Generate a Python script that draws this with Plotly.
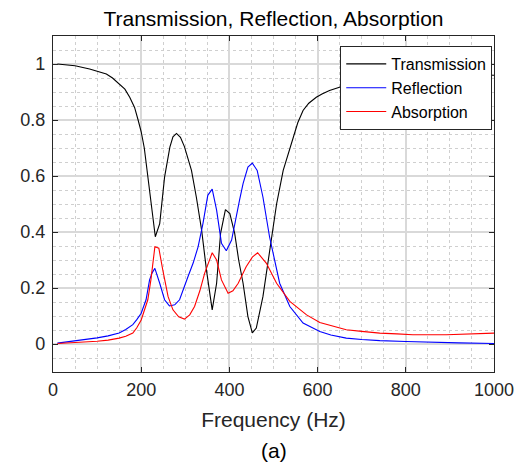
import plotly.graph_objects as go

# ---- data ----
freq_T = [10, 50, 83, 100, 121, 135, 151, 163, 174, 185, 193, 200, 207, 215, 227, 232, 242, 253, 265, 272,
          280, 289, 298, 314, 325, 337, 348, 361, 371, 380, 391, 401, 412, 421, 431, 442, 452, 461, 476, 491,
          507, 522, 535, 544, 555, 567, 580, 597, 610, 627, 660, 700, 750, 800, 850, 900, 950, 1000]
transmission = [1.0, 0.994, 0.982, 0.975, 0.964, 0.95, 0.929, 0.91, 0.881, 0.845, 0.80, 0.758, 0.70, 0.60,
                0.466, 0.383, 0.43, 0.596, 0.703, 0.74, 0.752, 0.738, 0.705, 0.62, 0.525, 0.407, 0.264, 0.122,
                0.217, 0.395, 0.48, 0.466, 0.395, 0.30, 0.217, 0.098, 0.04, 0.057, 0.169, 0.336, 0.50, 0.62,
                0.69, 0.739, 0.79, 0.834, 0.86, 0.881, 0.893, 0.905, 0.922, 0.939, 0.949, 0.956, 0.960, 0.962,
                0.962, 0.960]

freq_R = [10, 75, 100, 125, 150, 165, 181, 190, 200, 211, 219, 225, 231, 242, 253, 264, 276, 287, 295, 306,
          318, 329, 340, 351, 361, 371, 382, 393, 405, 416, 423, 431, 442, 452, 463, 476, 491, 514, 537, 567,
          605, 630, 665, 700, 741, 800, 854, 920, 1000]
reflection = [0.003, 0.015, 0.022, 0.029, 0.039, 0.052, 0.069, 0.087, 0.11, 0.158, 0.229, 0.255, 0.27, 0.217,
              0.158, 0.136, 0.14, 0.158, 0.19, 0.24, 0.29, 0.347, 0.43, 0.531, 0.553, 0.478, 0.36, 0.333, 0.371,
              0.466, 0.514, 0.573, 0.632, 0.646, 0.62, 0.525, 0.383, 0.217, 0.134, 0.075, 0.045, 0.032, 0.021,
              0.016, 0.012, 0.009, 0.006, 0.004, 0.002]

freq_A = [10, 75, 100, 125, 150, 165, 181, 190, 200, 215, 222, 231, 240, 249, 261, 272, 285, 298, 310, 321,
          333, 344, 361, 371, 382, 397, 408, 420, 438, 452, 464, 484, 507, 537, 575, 605, 640, 665, 700, 741,
          780, 816, 892, 950, 1000]
absorption = [0.002, 0.006, 0.01, 0.014, 0.021, 0.028, 0.039, 0.058, 0.086, 0.158, 0.229, 0.347, 0.342, 0.264,
              0.169, 0.122, 0.097, 0.089, 0.104, 0.134, 0.19, 0.253, 0.326, 0.30, 0.229, 0.181, 0.19, 0.217,
              0.276, 0.31, 0.326, 0.288, 0.217, 0.152, 0.104, 0.077, 0.062, 0.051, 0.045, 0.039, 0.036, 0.033,
              0.033, 0.035, 0.039]

x_ticks = [0, 200, 400, 600, 800, 1000]
y_ticks = [0, 0.2, 0.4, 0.6, 0.8, 1]
y_tick_labels = ["0", "0.2", "0.4", "0.6", "0.8", "1"]

FONT = "Arial, Liberation Sans, sans-serif"
AX = "#262626"

# the page body adds an 8 px offset, so the figure is 8 px smaller than the window
W, H = 516, 457
ML, MR, MT, MB = 45, 30, 28, 93
PH = H - MT - MB

fig = go.Figure()
fig.add_trace(go.Scatter(x=freq_T, y=transmission, mode="lines", name="Transmission",
                         line=dict(color="#000000", width=1.1)))
fig.add_trace(go.Scatter(x=freq_R, y=reflection, mode="lines", name="Reflection",
                         line=dict(color="#0000ff", width=1.1)))
fig.add_trace(go.Scatter(x=freq_A, y=absorption, mode="lines", name="Absorption",
                         line=dict(color="#ff0000", width=1.1)))

axis_common = dict(
    showline=True, linecolor=AX, linewidth=1.2, mirror="ticks",
    ticks="inside", ticklen=5, tickcolor=AX, tickwidth=1,
    showgrid=True, gridcolor="#d9d9d9", gridwidth=1.5,
    zeroline=False, automargin=False,
    tickfont=dict(family=FONT, size=18, color=AX),
)

fig.update_xaxes(
    range=[0, 1000], tickvals=x_ticks,
    minor=dict(dtick=50, showgrid=True, gridcolor="#cfcfcf", griddash="dot", gridwidth=1, ticks=""),
    title=dict(text="Frequency (Hz)", font=dict(family=FONT, size=21, color=AX), standoff=13),
    ticklabelstandoff=1,
    **axis_common,
)
fig.update_yaxes(
    range=[-0.1, 1.1], tickvals=y_ticks, ticktext=y_tick_labels,
    minor=dict(dtick=0.05, showgrid=True, gridcolor="#cfcfcf", griddash="dot", gridwidth=1, ticks=""),
    ticklabelstandoff=3,
    **axis_common,
)

fig.add_annotation(text="(a)", xref="paper", yref="paper", x=0.5, y=-78.7 / PH,
                   xanchor="center", yanchor="middle", showarrow=False,
                   font=dict(family=FONT, size=21, color="#000000"))

fig.update_layout(
    width=W, height=H,
    margin=dict(l=ML, r=MR, t=MT, b=MB),
    paper_bgcolor="white", plot_bgcolor="white",
    title=dict(text="Transmission, Reflection, Absorption", x=(ML + (W - ML - MR) / 2) / W,
               xanchor="center", y=1 - 11 / H, yanchor="middle",
               font=dict(family=FONT, size=21, color="#000000")),
    legend=dict(x=0.996, y=1 - 10 / PH, xanchor="right", yanchor="top",
                bgcolor="white", bordercolor=AX, borderwidth=1,
                font=dict(family=FONT, size=16, color="#000000"),
                tracegroupgap=0, itemwidth=40),
    showlegend=True,
)

fig.write_html("out.html")
